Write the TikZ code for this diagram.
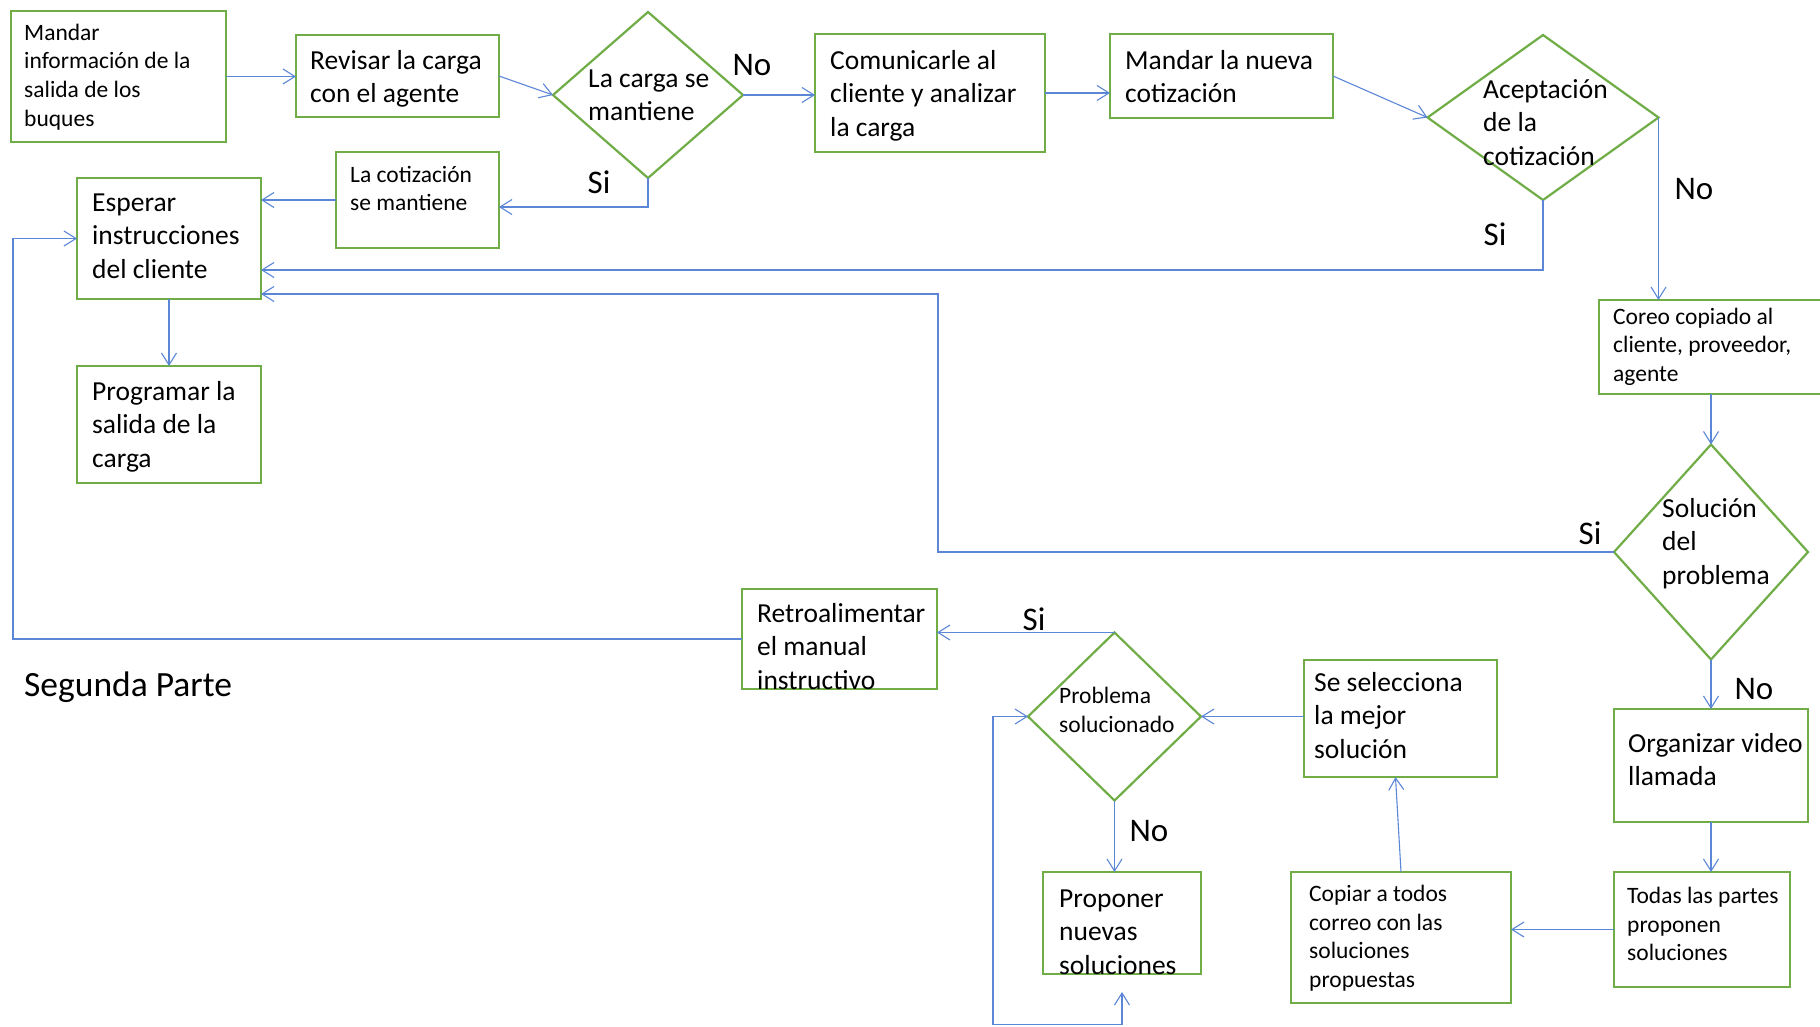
\documentclass[tikz,border=0pt]{standalone}
\usepackage{fontspec}
\setmainfont{Carlito}
\usetikzlibrary{shapes.geometric,arrows.meta}
\definecolor{boxgreen}{HTML}{70AD47}
\definecolor{flowblue}{HTML}{5B87D6}
\tikzset{barb/.tip={Straight Barb[length=12pt,width=15pt]}}
\begin{document}
\begin{tikzpicture}[x=1pt,y=-1pt,
  box/.style={draw=boxgreen, line width=2.2pt, rectangle, inner sep=0pt, outer sep=0pt, anchor=north west},
  dec/.style={draw=boxgreen, line width=2.2pt, diamond, inner sep=0pt, outer sep=0pt},
  flow/.style={draw=flowblue, line width=1.1pt, -barb},
  small/.style={anchor=north west, inner sep=0pt, align=left, font=\fontsize{23.5}{28.7}\selectfont},
  large/.style={anchor=north west, inner sep=0pt, align=left, font=\fontsize{27.5}{33.5}\selectfont},
  lbl/.style={inner sep=0pt, font=\fontsize{33}{40}\selectfont},
]
\fill[white] (0,0) rectangle (1820,1026);
\useasboundingbox (0,0) rectangle (1820,1026);

% process boxes
\node[box, minimum width=215pt, minimum height=131pt] (b1) at (11,11) {};
\node[box, minimum width=203pt, minimum height=82pt] (b2) at (296,35) {};
\node[box, minimum width=230pt, minimum height=118pt] (b3) at (815,34) {};
\node[box, minimum width=223pt, minimum height=84pt] (b4) at (1110,34) {};
\node[box, minimum width=163pt, minimum height=96pt] (b5) at (336,152) {};
\node[box, minimum width=184pt, minimum height=121pt] (b6) at (77,178) {};
\node[box, minimum width=184pt, minimum height=117pt] (b7) at (77,366) {};
\node[box, minimum width=226pt, minimum height=94pt] (b8) at (1599,300) {};
\node[box, minimum width=194pt, minimum height=113pt] (b9) at (1614,709) {};
\node[box, minimum width=176pt, minimum height=115pt] (b10) at (1614,872) {};
\node[box, minimum width=220pt, minimum height=131pt] (b11) at (1291,872) {};
\node[box, minimum width=193pt, minimum height=117pt] (b12) at (1304,660) {};
\node[box, minimum width=195pt, minimum height=100pt] (b13) at (742,589) {};
\node[box, minimum width=158pt, minimum height=102pt] (b14) at (1043,872) {};

% decisions
\node[dec, minimum width=190pt, minimum height=166pt] (d1) at (648,95) {};
\node[dec, minimum width=231pt, minimum height=165pt] (d2) at (1543,117.5) {};
\node[dec, minimum width=194pt, minimum height=215pt] (d3) at (1711,552) {};
\node[dec, minimum width=173pt, minimum height=168pt] (d4) at (1114.5,716.5) {};

% texts
\node[small] (t1) at (24,20) {\strut Mandar\\información de la\\salida de los\\buques};
\node[large] (t2) at (310,45.5) {\strut Revisar la carga\\con el agente};
\node[large] (t3) at (588,63.5) {\strut La carga se\\mantiene};
\node[large] (t4) at (830,45.5) {\strut Comunicarle al\\cliente y analizar\\la carga};
\node[large] (t5) at (1125,45.5) {\strut Mandar la nueva\\cotización};
\node[large] (t6) at (1483,74.5) {\strut Aceptación\\de la\\cotización};
\node[small] (t7) at (350,162) {\strut La cotización\\se mantiene};
\node[large] (t8) at (92,187.5) {\strut Esperar\\instrucciones\\del cliente};
\node[large] (t9) at (92,376.5) {\strut Programar la\\salida de la\\carga};
\node[small] (t10) at (1613,304) {\strut Coreo copiado al\\cliente, proveedor,\\agente};
\node[large] (t11) at (1662,493.5) {\strut Solución\\del\\problema};
\node[large] (t12) at (1628,728.5) {\strut Organizar video\\llamada};
\node[small] (t13) at (1627,883) {\strut Todas las partes\\proponen\\soluciones};
\node[small] (t14) at (1309,881) {\strut Copiar a todos\\correo con las\\soluciones\\propuestas};
\node[large] (t15) at (1314,667.5) {\strut Se selecciona\\la mejor\\solución};
\node[small] (t16) at (1059,683) {\strut Problema\\solucionado};
\node[large] (t17) at (757,598.5) {\strut Retroalimentar\\el manual\\instructivo};
\node[large] (t18) at (1059,883.5) {\strut Proponer\\nuevas\\soluciones};
\node[lbl, font=\fontsize{35.5}{42}\selectfont, anchor=base west] (sp) at (24,696) {Segunda Parte};

% branch labels
\node[lbl] (n1) at (752,65) {No};
\node[lbl] (s1) at (599,182) {Si};
\node[lbl] (n2) at (1694,189) {No};
\node[lbl] (s2) at (1495,234) {Si};
\node[lbl] (s3) at (1590,533) {Si};
\node[lbl] (n3) at (1754,689) {No};
\node[lbl] (s4) at (1034,619) {Si};
\node[lbl] (n4) at (1149,831) {No};

% connectors
\draw[flow] (b1.east) -- (b1.east -| b2.west);
\draw[flow] (b2.east) -- (d1.west);
\draw[flow] (d1.east) -- (d1.east -| b3.west);
\draw[flow] (b3.east) -- (b3.east -| b4.west);
\draw[flow] (b4.east) -- (d2.west);
\draw[flow] (d2.south) |- ([yshift=-31.5pt]b6.east);
\draw[flow] (d2.east) -- (d2.east |- b8.north);
\draw[flow] (d1.south) |- ([yshift=-7pt]b5.east);
\draw[flow] (b5.west) -- (b5.west -| b6.east);
\draw[flow] (b6.south) -- (b7.north);
\draw[flow] (d3.north |- b8.south) -- (d3.north);
\coordinate (k1) at (938,294);
\draw[flow] (d3.west) -| (k1) -- (k1 -| b6.east);
\draw[flow] (d3.south) -- (d3.south |- b9.north);
\draw[flow] (b9.south) -- (b9.south |- b10.north);
\draw[flow] (b10.west) -- (b10.west -| b11.east);
\draw[flow] (b11.north) -- ([xshift=-5pt]b12.south);
\draw[flow] (d4.east -| b12.west) -- (d4.east);
\draw[flow] (d4.north) -- (d4.north -| b13.east);
\draw[flow] (d4.south) -- (d4.south |- b14.north);
\coordinate (lx) at (13,0);
\draw[flow] (b13.west) -| (lx |- b6.west) -- (b6.west);
\coordinate (q1) at ([yshift=-18pt]b14.south);
\coordinate (q2) at (993,1024.5);
\draw[flow, barb-barb] (q1) |- (q2) |- (d4.west);
\end{tikzpicture}
\end{document}
